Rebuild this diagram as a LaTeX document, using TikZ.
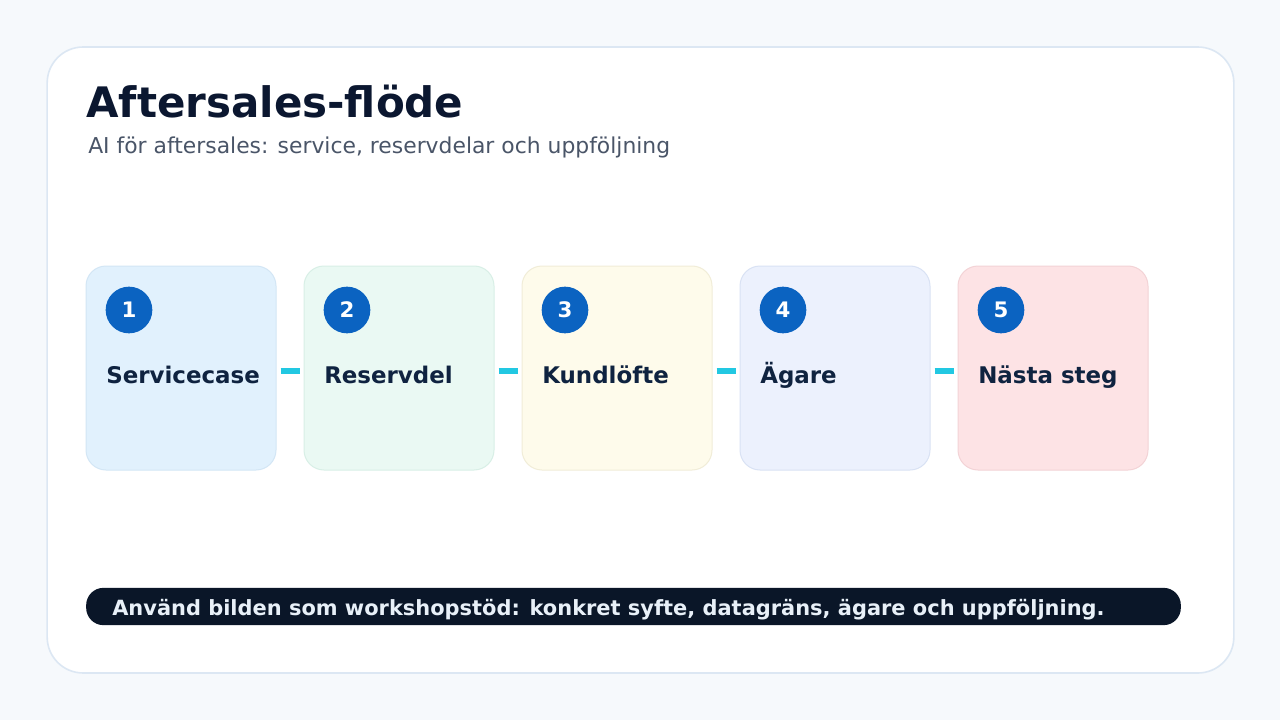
\documentclass[tikz,border=0pt]{standalone}
\usepackage{fontspec}
\setmainfont{DejaVu Sans}
\definecolor{pagebg}{HTML}{F6F9FC}
\definecolor{cardborder}{HTML}{DCE7F3}
\definecolor{titlecol}{HTML}{0B1730}
\definecolor{subcol}{HTML}{4A5568}
\definecolor{labelcol}{HTML}{0F2340}
\definecolor{badge}{HTML}{0B63C1}
\definecolor{conn}{HTML}{22C8E2}
\definecolor{barbg}{HTML}{0A1628}
\definecolor{bartext}{HTML}{E8F0F8}
\definecolor{fillA}{HTML}{E1F1FD}
\definecolor{fillB}{HTML}{EAF9F3}
\definecolor{fillC}{HTML}{FEFBEB}
\definecolor{fillD}{HTML}{ECF1FD}
\definecolor{fillE}{HTML}{FDE3E5}
\definecolor{lineA}{HTML}{D3E6F5}
\definecolor{lineB}{HTML}{D8EFE6}
\definecolor{lineC}{HTML}{F1EDD8}
\definecolor{lineD}{HTML}{D9E2F4}
\definecolor{lineE}{HTML}{F3D3D6}
\tikzset{
  stepcard/.style={draw, line width=0.75pt, rounded corners=15pt, minimum width=142.5pt, minimum height=153pt, inner sep=0pt},
  badgecirc/.style={circle, fill=badge, minimum size=35pt, inner sep=0pt, text=white, font=\fontsize{16}{19}\selectfont\bfseries},
  steplabel/.style={anchor=base west, inner sep=0pt, text=labelcol, font=\fontsize{17.2}{20}\selectfont\bfseries},
  connline/.style={draw=conn, line width=4pt}
}
\begin{document}
\begin{tikzpicture}[x=0.75pt,y=-0.75pt]
\useasboundingbox (0,0) rectangle (1280,720);
\fill[pagebg] (0,0) rectangle (1280,720);
\node[draw=cardborder, fill=white, line width=1.2pt, rounded corners=27pt, minimum width=890pt, minimum height=469.5pt, inner sep=0pt] (card) at (640.5,360) {};
\node[anchor=base west, inner sep=0pt, text=titlecol, font=\fontsize{31.5}{36}\selectfont\bfseries] (title) at (86,118) {Aftersales-flöde};
\node[anchor=base west, inner sep=0pt, text=subcol, font=\fontsize{16.4}{19}\selectfont] (subtitle) at (88,154) {AI för aftersales: service, reservdelar och uppföljning};
\foreach \i/\x/\f/\l/\t in {1/86/fillA/lineA/Servicecase, 2/304/fillB/lineB/Reservdel, 3/522/fillC/lineC/Kundlöfte, 4/740/fillD/lineD/Ägare, 5/958/fillE/lineE/Nästa steg}{
  \node[stepcard, fill=\f, draw=\l] (box\i) at (\x+95,368) {};
  \node[badgecirc] (num\i) at (\x+43,310) {\i};
  \node[steplabel] (lab\i) at (\x+20,383) {\t};
}
\foreach \a/\b in {1/2,2/3,3/4,4/5}{
  \draw[connline] ([xshift=3pt]box\a.east |- 0,371) -- ([xshift=-3pt]box\b.west |- 0,371);
}
\node[fill=barbg, rounded corners=13pt, minimum width=821pt, minimum height=28pt, inner sep=0pt] (bar) at (633.5,606.5) {};
\node[anchor=base west, inner sep=0pt, text=bartext, font=\fontsize{15.7}{19}\selectfont\bfseries] (bartxt) at (112,615) {Använd bilden som workshopstöd: konkret syfte, datagräns, ägare och uppföljning.};
\end{tikzpicture}
\end{document}
